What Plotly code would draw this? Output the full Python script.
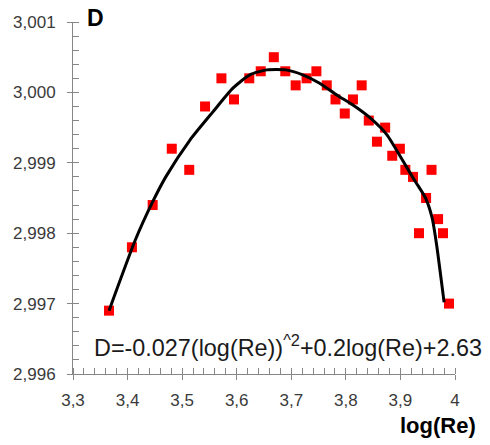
import plotly.graph_objects as go

# Measured points: log(Re) vs D
log_re = [3.366, 3.408, 3.446, 3.481, 3.513, 3.542, 3.572, 3.595, 3.623, 3.644,
          3.668, 3.689, 3.708, 3.728, 3.746, 3.765, 3.781, 3.798, 3.813, 3.829,
          3.842, 3.857, 3.872, 3.885, 3.899, 3.909, 3.923, 3.957, 3.947, 3.969,
          3.934, 3.978, 3.989]
d_vals = [2.9969, 2.9978, 2.9984, 2.9992, 2.9989, 2.9998, 3.0002, 2.9999, 3.0002, 3.0003,
          3.0005, 3.0003, 3.0001, 3.0002, 3.0003, 3.0001, 2.9999, 2.9997, 2.9999, 3.0001,
          2.9996, 2.9993, 2.9995, 2.9991, 2.9992, 2.9989, 2.9988, 2.9989, 2.9985, 2.9982,
          2.9980, 2.9980, 2.9970]

# Smoothed trend curve
trend_x = [3.366, 3.414, 3.445, 3.470, 3.514, 3.556, 3.593, 3.624, 3.655,
           3.690, 3.721, 3.752, 3.784, 3.813, 3.844, 3.875, 3.902, 3.926, 3.946,
           3.958, 3.966, 3.980]
trend_y = [2.99690, 2.99790, 2.99843, 2.99880, 2.99932, 2.99972, 3.00006, 3.00025, 3.00032,
           3.00032, 3.00025, 3.00013, 2.99996, 2.99982, 2.99964, 2.99940, 2.99906, 2.99875, 2.99850,
           2.99822, 2.99785, 2.99702]

x_tickvals = [3.3, 3.4, 3.5, 3.6, 3.7, 3.8, 3.9, 4.0]
x_ticktext = ["3,3", "3,4", "3,5", "3,6", "3,7", "3,8", "3,9", "4"]
y_tickvals = [2.996, 2.997, 2.998, 2.999, 3.000, 3.001]
y_ticktext = ["2,996", "2,997", "2,998", "2,999", "3,000", "3,001"]

equation = "D=-0.027(log(Re))<sup>^2</sup>+0.2log(Re)+2.63"

AXIS_GREY = "#878787"
LABEL_GREY = "#3a3a3a"
FONT = "Liberation Sans, Arial, sans-serif"

fig = go.Figure()

fig.add_trace(go.Scatter(
    x=log_re, y=d_vals, mode="markers",
    marker=dict(symbol="square", size=10, color="#ff0000", line=dict(width=0)),
    showlegend=False, hoverinfo="x+y",
))
fig.add_trace(go.Scatter(
    x=trend_x, y=trend_y, mode="lines",
    line=dict(color="black", width=3, shape="spline", smoothing=0.6),
    showlegend=False, hoverinfo="skip",
))
# Invisible companion trace so the overlay axes (inner half of major ticks) render
fig.add_trace(go.Scatter(
    x=log_re, y=d_vals, mode="markers", xaxis="x2", yaxis="y2",
    marker=dict(opacity=0), showlegend=False, hoverinfo="skip",
))

x_range = [3.3, 4.0]
y_range = [2.996, 3.001]

fig.update_layout(
    width=490, height=445,
    margin=dict(l=73, r=35, t=22, b=71),
    paper_bgcolor="white", plot_bgcolor="white",
    font=dict(family=FONT, color=LABEL_GREY),
    xaxis=dict(
        range=x_range, showgrid=False, zeroline=False,
        showline=True, linecolor=AXIS_GREY, linewidth=1,
        tickmode="array", tickvals=x_tickvals, ticktext=x_ticktext,
        ticks="outside", ticklen=5, tickcolor=AXIS_GREY, tickwidth=1,
        tickfont=dict(size=17, color=LABEL_GREY), ticklabelstandoff=6,
        minor=dict(tickmode="linear", tick0=3.3, dtick=0.02, ticks="inside",
                   ticklen=6, tickcolor=AXIS_GREY, tickwidth=1, showgrid=False),
    ),
    yaxis=dict(
        range=y_range, showgrid=False, zeroline=False,
        showline=True, linecolor=AXIS_GREY, linewidth=1,
        tickmode="array", tickvals=y_tickvals, ticktext=y_ticktext,
        ticks="outside", ticklen=5, tickcolor=AXIS_GREY, tickwidth=1,
        tickfont=dict(size=17, color=LABEL_GREY), ticklabelstandoff=8,
        minor=dict(tickmode="linear", tick0=2.996, dtick=0.0002, ticks="inside",
                   ticklen=6, tickcolor=AXIS_GREY, tickwidth=1, showgrid=False),
    ),
    xaxis2=dict(
        range=x_range, overlaying="x", anchor="y2", side="bottom",
        showgrid=False, zeroline=False, showline=False, showticklabels=False,
        tickmode="array", tickvals=x_tickvals,
        ticks="inside", ticklen=6, tickcolor=AXIS_GREY, tickwidth=1,
    ),
    yaxis2=dict(
        range=y_range, overlaying="y", anchor="x2", side="left",
        showgrid=False, zeroline=False, showline=False, showticklabels=False,
        tickmode="array", tickvals=y_tickvals,
        ticks="inside", ticklen=6, tickcolor=AXIS_GREY, tickwidth=1,
    ),
    annotations=[
        dict(text="<b>D</b>", xref="paper", yref="paper", x=0.032, y=1.011,
             xanchor="left", yanchor="middle", showarrow=False,
             font=dict(size=23, color="black", family=FONT)),
        dict(text="<b>log(Re)</b>", xref="paper", yref="paper", x=1.06, y=-0.145,
             xanchor="right", yanchor="middle", showarrow=False,
             font=dict(size=22, color="black", family=FONT)),
        dict(text=equation, xref="paper", yref="paper", x=0.05, y=0.08,
             xanchor="left", yanchor="middle", showarrow=False,
             font=dict(size=23.4, color="#1a1a1a", family=FONT)),
    ],
)

fig.write_html("out.html")
